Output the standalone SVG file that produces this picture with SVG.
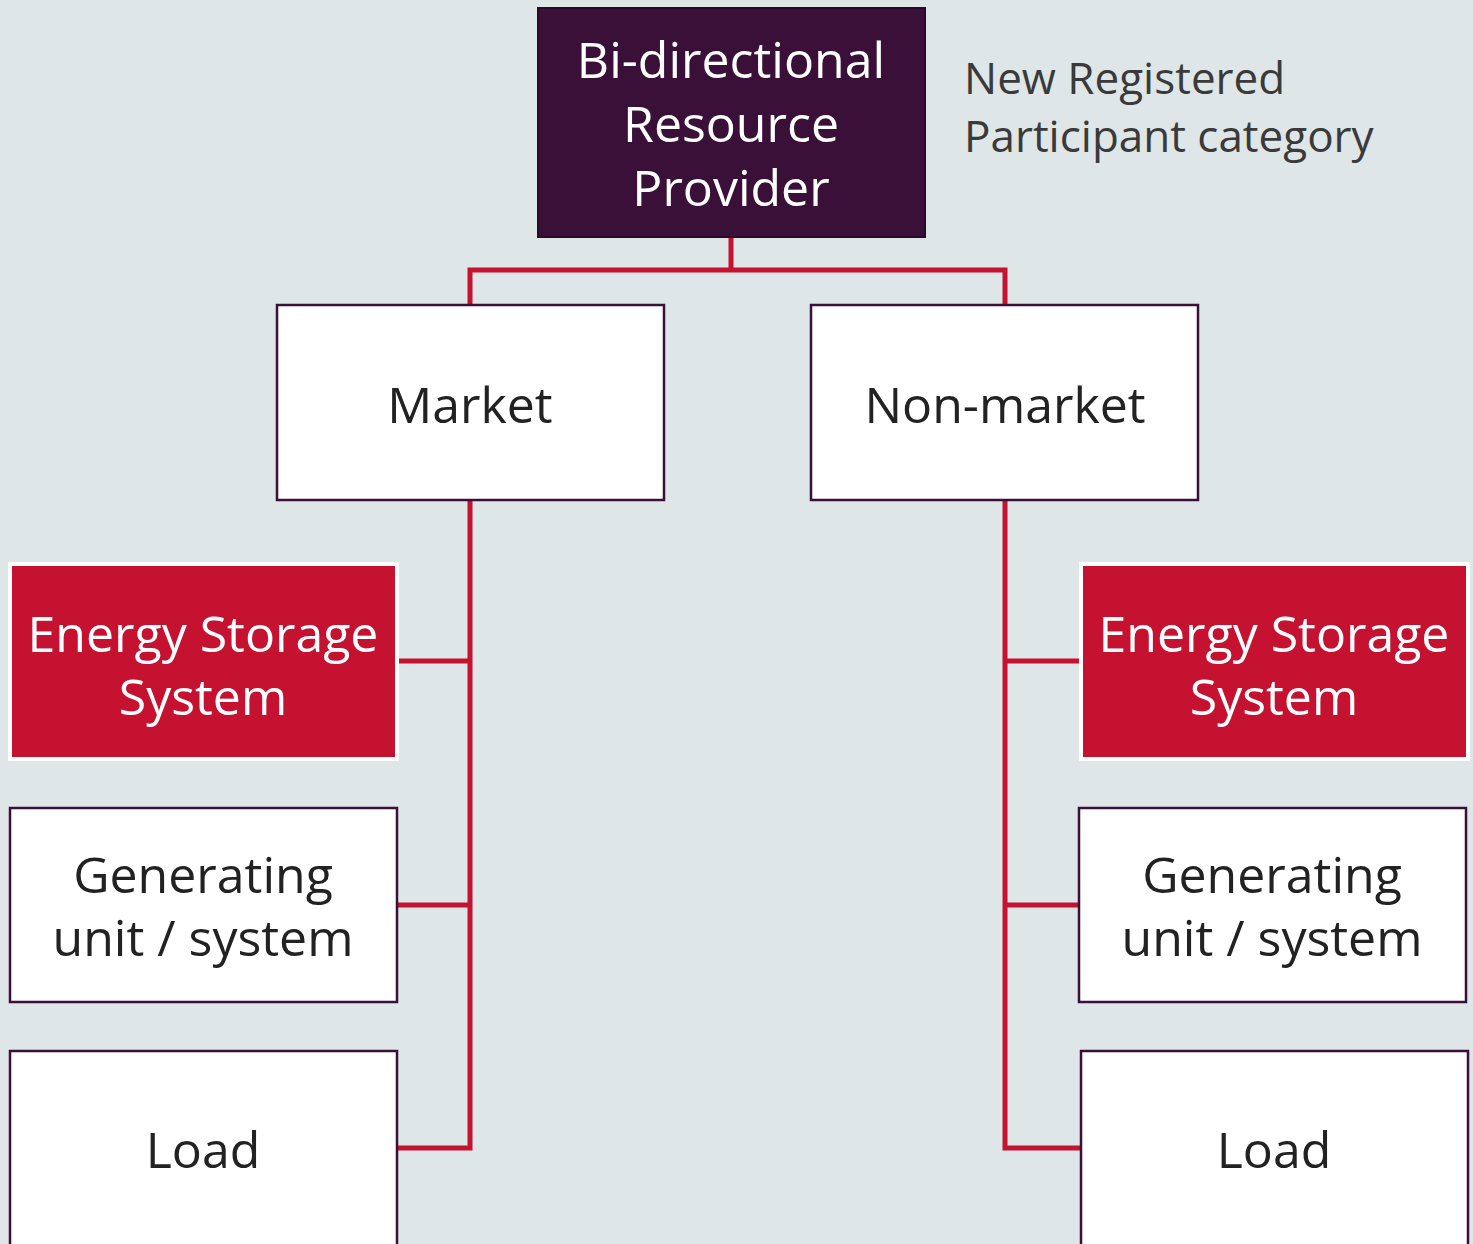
<svg xmlns="http://www.w3.org/2000/svg" width="1473" height="1244" viewBox="0 0 1473 1244">
  <style>
    .bg { fill: #dfe6e8; }
    .box { fill: #ffffff; stroke: #3a1038; stroke-width: 2.5; }
    .top { fill: #3a1038; stroke: #2a0a28; stroke-width: 2; }
    .ess { fill: #c41230; stroke: #ffffff; stroke-width: 4; }
    .lbl { font-family: "Open Sans", "Noto Sans", "Liberation Sans", sans-serif; font-size: 50px; text-anchor: middle; fill: #222222; }
    .lbl-w { fill: #ffffff; }
    .note { font-family: "Open Sans", "Noto Sans", "Liberation Sans", sans-serif; font-size: 44px; fill: #3a3a3a; }
    .conn { fill: none; stroke: #c41230; stroke-width: 5; stroke-linejoin: miter; }
  </style>
  <rect class="bg" x="0" y="0" width="1473" height="1244"/>

  <g id="connectors">
    <path class="conn" d="M731 237 V270 M470 305 V270 H1005 V305"/>
    <path class="conn" d="M470 500 V1148 H397 M470 661 H397 M470 905 H397"/>
    <path class="conn" d="M1005 500 V1148 H1080 M1005 661 H1079 M1005 905 H1078"/>
  </g>

  <g id="brp">
    <rect class="top" x="538" y="8" width="387" height="229"/>
    <text class="lbl lbl-w" x="731" y="78">Bi-directional</text>
    <text class="lbl lbl-w" x="731" y="142">Resource</text>
    <text class="lbl lbl-w" x="731" y="206">Provider</text>
  </g>

  <g id="note">
    <text class="note" x="964" y="94">New Registered</text>
    <text class="note" x="964" y="152">Participant category</text>
  </g>

  <g id="market">
    <rect class="box" x="277" y="305" width="387" height="195"/>
    <text class="lbl" x="470" y="423">Market</text>
  </g>

  <g id="non-market">
    <rect class="box" x="811" y="305" width="387" height="195"/>
    <text class="lbl" x="1005" y="423">Non-market</text>
  </g>

  <g id="ess-market">
    <rect class="ess" x="10" y="564" width="387" height="195"/>
    <text class="lbl lbl-w" x="203" y="652">Energy Storage</text>
    <text class="lbl lbl-w" x="203" y="715">System</text>
  </g>

  <g id="gen-market">
    <rect class="box" x="10" y="808" width="387" height="194"/>
    <text class="lbl" x="203" y="893">Generating</text>
    <text class="lbl" x="203" y="956">unit / system</text>
  </g>

  <g id="load-market">
    <rect class="box" x="10" y="1051" width="387" height="210"/>
    <text class="lbl" x="203" y="1168">Load</text>
  </g>

  <g id="ess-non-market">
    <rect class="ess" x="1081" y="564" width="387" height="195"/>
    <text class="lbl lbl-w" x="1274" y="652">Energy Storage</text>
    <text class="lbl lbl-w" x="1274" y="715">System</text>
  </g>

  <g id="gen-non-market">
    <rect class="box" x="1079" y="808" width="387" height="194"/>
    <text class="lbl" x="1272" y="893">Generating</text>
    <text class="lbl" x="1272" y="956">unit / system</text>
  </g>

  <g id="load-non-market">
    <rect class="box" x="1081" y="1051" width="387" height="210"/>
    <text class="lbl" x="1274" y="1168">Load</text>
  </g>
</svg>
